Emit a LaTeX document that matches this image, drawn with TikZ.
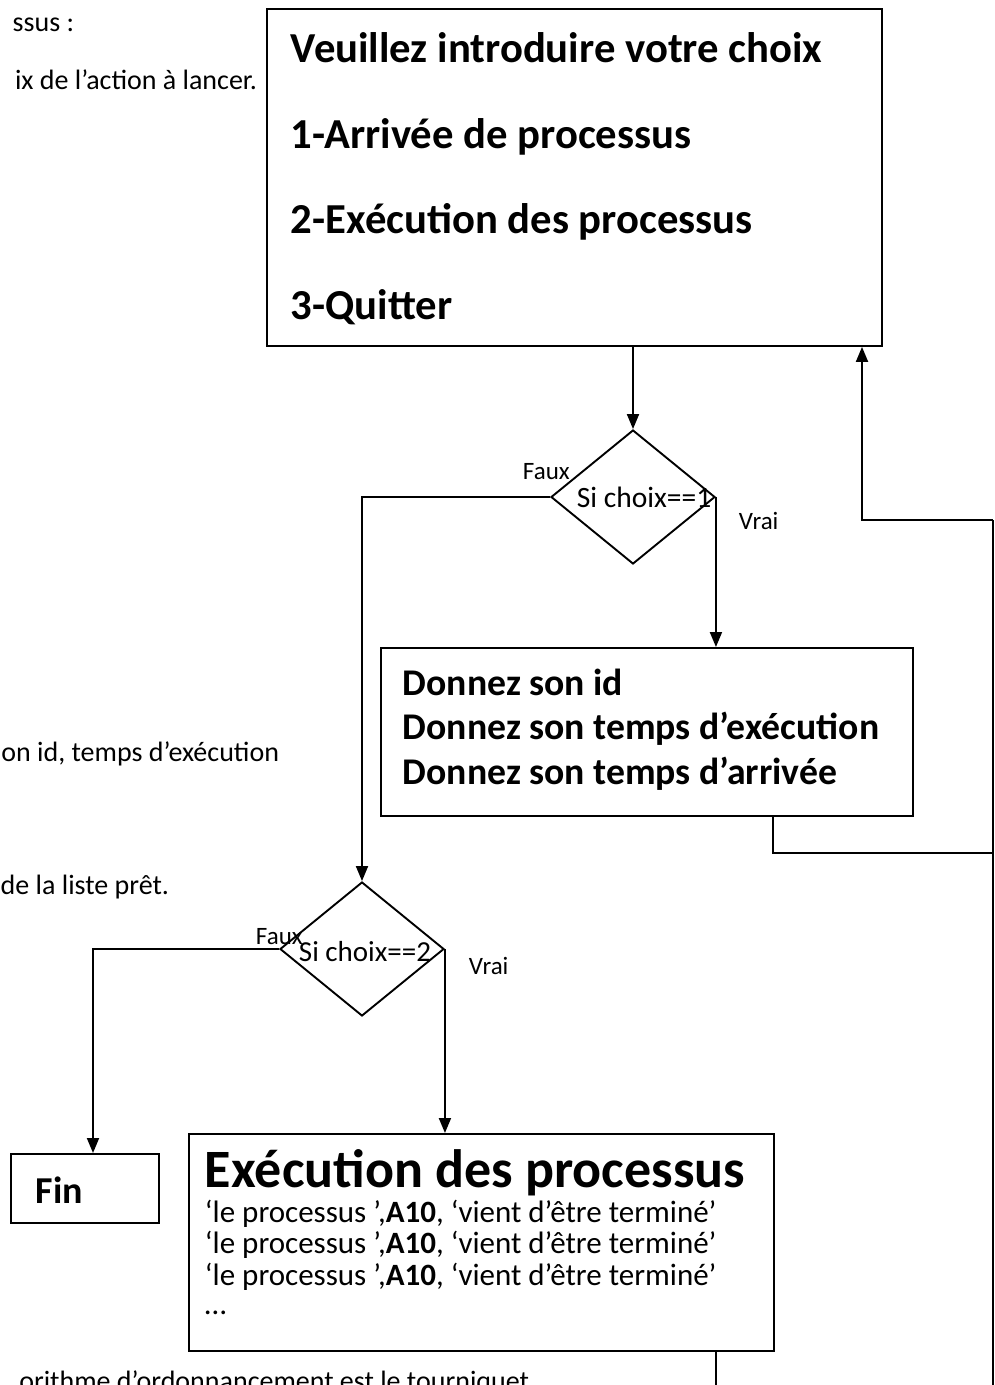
\documentclass[tikz,border=0pt]{standalone}
\usepackage{fontspec}
\setmainfont{Carlito}
\usetikzlibrary{shapes.geometric,arrows.meta}
\begin{document}
\begin{tikzpicture}[x=1pt,y=-1pt,
  line width=1.9pt,
  box/.style={draw, rectangle, inner sep=0pt, anchor=north west},
  dia/.style={draw, diamond, inner sep=0pt, minimum width=164pt, minimum height=134pt},
  arr/.style={-{Triangle[length=15pt,width=12pt]}},
  big/.style={anchor=base west, inner sep=0pt, font=\fontsize{42.7}{51}\selectfont\bfseries},
  mid/.style={anchor=base west, inner sep=0pt, font=\fontsize{37.7}{45}\selectfont\bfseries},
  sm/.style={anchor=base west, inner sep=0pt, font=\fontsize{31}{37}\selectfont},
  side/.style={anchor=base east, inner sep=0pt, font=\fontsize{28}{34}\selectfont},
  lbl/.style={anchor=base west, inner sep=0pt, font=\fontsize{25}{30}\selectfont},
  cond/.style={anchor=base west, inner sep=0pt, font=\fontsize{29.5}{35}\selectfont}]
\useasboundingbox (0,0) rectangle (995,1385);
\clip (0,0) rectangle (995,1385);

% side texts (cut off)
\node[side] (s1) at (75,31) {ssus :};
\node[side] (s2) at (258,89) {ix de l’action à lancer.};
\node[side] (s3) at (280,761) {on id, temps d’exécution};
\node[side] (s4) at (170,894) {de la liste prêt.};
\node[side] (s5) at (530,1390) {orithme d’ordonnancement est le tourniquet};

% top box
\node[box, minimum width=615pt, minimum height=337pt] (menu) at (266,8) {};
\node[big] (m1) at (290,62) {Veuillez introduire votre choix};
\node[big] (m2) at (290,148) {1-Arrivée de processus};
\node[big] (m3) at (290,233) {2-Exécution des processus};
\node[big] (m4) at (290,319) {3-Quitter};

% diamond 1
\node[dia] (d1) at (633,497) {};
\node[cond] (t1) at (576,507) {Si choix==1};
\node[lbl] (f1) at (522,479) {Faux};
\node[lbl] (v1) at (738,529) {Vrai};

% donnez box
\node[box, minimum width=532pt, minimum height=168pt] (don) at (380,647) {};
\node[mid] (dl1) at (402,695) {Donnez son id};
\node[mid] (dl2) at (402,739) {Donnez son temps d’exécution};
\node[mid] (dl3) at (402,784) {Donnez son temps d’arrivée};

% diamond 2
\node[dia] (d2) at (362,949) {};
\node[cond, font=\fontsize{29}{35}\selectfont] (t2) at (298,961) {Si choix==2};
\node[lbl] (f2) at (255,944) {Faux};
\node[lbl] (v2) at (468,974) {Vrai};

% fin box
\node[box, minimum width=148pt, minimum height=69pt] (fin) at (10,1153) {};
\node[mid, font=\fontsize{38}{45}\selectfont\bfseries] (fint) at (35,1203) {Fin};

% execution box
\node[box, minimum width=585pt, minimum height=217pt] (exe) at (188,1133) {};
\node[big, font=\fontsize{54}{64}\selectfont\bfseries] (et) at (204,1187) {Exécution des processus};
\node[sm] (e1) at (204,1222) {‘le processus ’,\textbf{A10}, ‘vient d’être terminé’};
\node[sm] (e2) at (204,1253) {‘le processus ’,\textbf{A10}, ‘vient d’être terminé’};
\node[sm] (e3) at (204,1285) {‘le processus ’,\textbf{A10}, ‘vient d’être terminé’};
\node[sm] (e4) at (204,1314) {…};

% connectors
\coordinate (rb) at (993,1385);
\coordinate (rt) at (993,520);
\coordinate (eb) at (716,1385);
\draw[arr] (menu.south -| d1.north) -- (d1.north);
\draw[arr] (d1.east) -- (d1.east |- don.north);
\draw[arr] (d1.west) -- (d1.west -| d2.north) -- (d2.north);
\draw[arr] (d2.west) -- (d2.west -| 93,0) -- (93,0 |- fin.north);
\draw[arr] (d2.east) -- (d2.east |- exe.north);
\draw (don.south -| 773,0) -- (773,853) -- (993,853);
\draw (exe.south -| eb) -- (eb);
\draw (rb) -- (rt);
\draw[arr] (rt) -- (862,520) -- (862,0 |- menu.south);
\end{tikzpicture}
\end{document}
